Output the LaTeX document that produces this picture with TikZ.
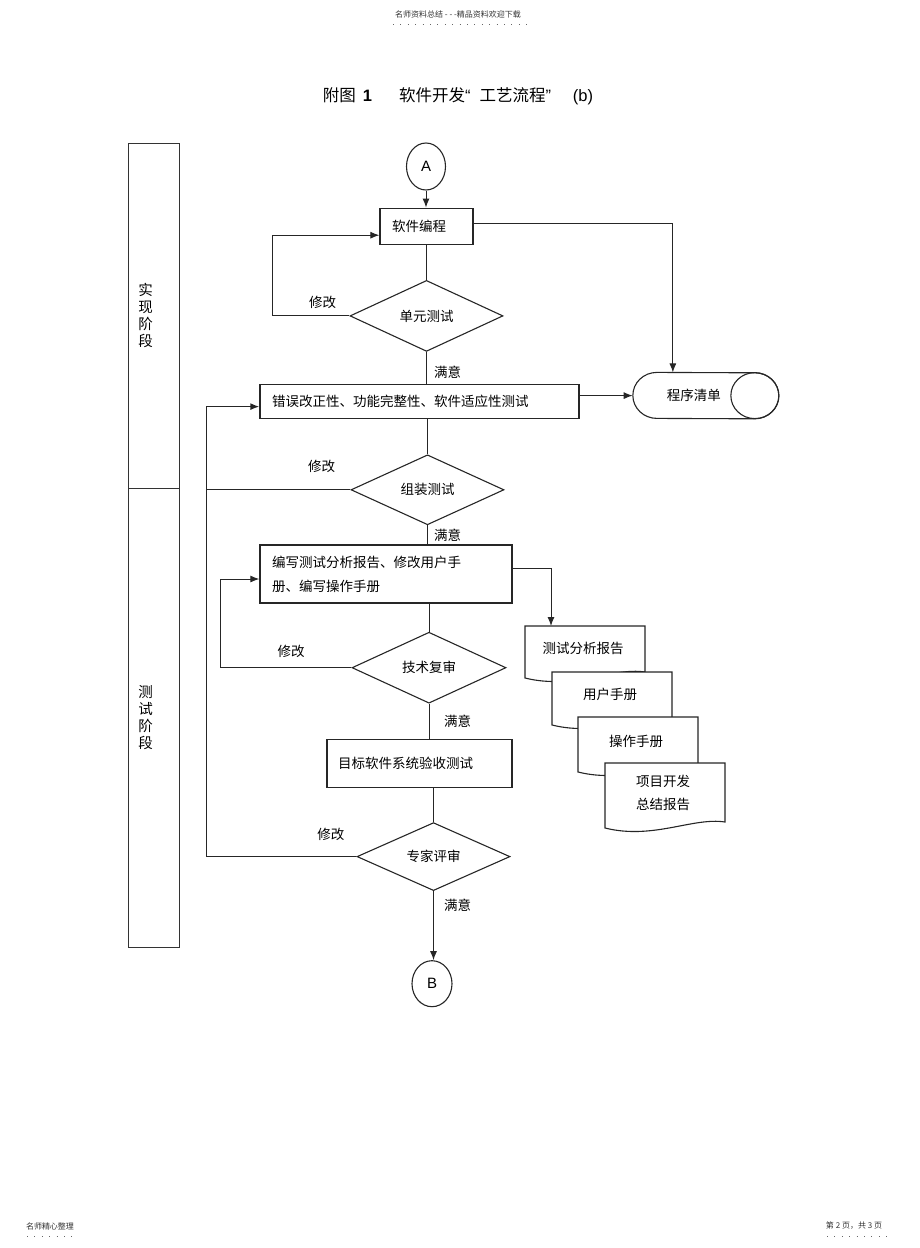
\documentclass[tikz,border=0pt]{standalone}
\usepackage{fontspec}
\setmainfont{Liberation Sans}
\newfontfamily\cjk{Noto Sans CJK SC}
\usepackage{tikz}
\usetikzlibrary{shapes,arrows,arrows.meta,positioning}
\tikzstyle{block} = [rectangle, draw=black!85, line width=1.3pt, fill=white,
    font=\cjk\fontsize{13.5}{24}\selectfont, align=left, inner xsep=12pt, inner ysep=0pt]
\tikzstyle{decision} = [diamond, draw=black!85, line width=1.1pt, fill=white,
    font=\cjk\fontsize{13.5}{16}\selectfont, inner sep=0pt, minimum width=153pt, minimum height=71pt]
\tikzstyle{term} = [ellipse, draw=black!85, line width=1.1pt, font=\fontsize{15}{18}\selectfont,
    minimum width=39pt, minimum height=47pt, inner sep=0pt]
\tikzstyle{store} = [rectangle, minimum width=146pt, minimum height=46pt, inner sep=0pt,
    font=\cjk\fontsize{13.5}{16}\selectfont]
\tikzstyle{line} = [draw=black!85, line width=1pt, -{Latex[length=9pt, width=7pt]}]
\tikzstyle{link} = [draw=black!85, line width=1pt]
\tikzstyle{tag} = [font=\cjk\fontsize{13.5}{16}\selectfont, inner sep=0pt]
\tikzstyle{lane} = [rectangle, draw=black!80, line width=1pt, minimum width=51pt]
\tikzstyle{lanetext} = [font=\cjk\fontsize{14.5}{17}\selectfont, align=center, inner sep=0pt]
\tikzstyle{doc} = [draw=black!85, line width=1.1pt, fill=white]
\tikzstyle{doctext} = [font=\cjk\fontsize{13.5}{23}\selectfont, align=center, inner sep=0pt]
\tikzstyle{small} = [font=\cjk\fontsize{8}{9}\selectfont, inner sep=0pt, text=black!80]
\tikzstyle{dotrule} = [draw=black!60, line width=0.8pt, dash pattern=on 0.8pt off 6.6pt]
\tikzstyle{heading} = [font=\fontsize{16.5}{20}\selectfont, inner sep=0pt]

\begin{document}
\begin{tikzpicture}[x=1pt, y=-1pt, node distance=2cm, auto]
	\useasboundingbox (0,0) rectangle (920,1248);
	% header, footer and title
	\node [small] (head) at (458,14) {名师资料总结 - - -精品资料欢迎下载};
	\draw [dotrule] (393,24) -- (527,24);
	\node [small] (foot1) at (50,1226) {名师精心整理};
	\draw [dotrule] (27,1236) -- (76,1236);
	\node [small] (foot2) at (854,1226) {第 2 页，共 3 页};
	\draw [dotrule] (827,1236) -- (892,1236);
	\node [heading] (title) at (458,96) {{\cjk 附图}\hspace{7pt}{\bfseries 1}\hspace{27pt}{\cjk 软件开发}“\hspace{9pt}{\cjk 工艺流程}”\hspace{22pt}(b)};

	% phases
	\node [lane, minimum height=345pt] (lane1) at (153.5,315.5) {};
	\node [lane, minimum height=459pt] (lane2) at (153.5,717.5) {};
	\node [lanetext] (phase1) at ([xshift=-8pt]lane1) {实\\现\\阶\\段};
	\node [lanetext] (phase2) at ([xshift=-8pt]lane2) {测\\试\\阶\\段};

	% node placement
	\node [term] (A) at (426,166.5) {A};
	\node [block, text width=69pt, minimum height=36pt, below=17pt of A, xshift=0.5pt] (code) {软件编程};
	\node [decision, below=35pt of code] (unit) {单元测试};
	\node [block, text width=295pt, minimum height=34pt, below=32pt of unit, xshift=-7pt] (fix) {错误改正性、功能完整性、软件适应性测试};
	\node [store, right=53pt of fix, yshift=6pt] (list) {};
	\node [decision, minimum height=70pt, below=35pt of fix, xshift=8pt] (asm) {组装测试};
	\node [block, text width=228pt, minimum height=58pt, below=19pt of asm, xshift=-41.5pt] (report) {编写测试分析报告、修改用户手\\册、编写操作手册};
	\node [decision, minimum width=154pt, below=28pt of report, xshift=43pt] (review) {技术复审};
	\node [block, inner xsep=11pt, text width=163pt, minimum height=48pt, below=35pt of review, xshift=-9.5pt] (accept) {目标软件系统验收测试};
	\node [decision, minimum height=68pt, below=34pt of accept, xshift=14pt] (expert) {专家评审};
	\node [term, minimum width=40pt, minimum height=46pt, below=69pt of expert, xshift=-1.5pt] (B) {B};

	% program list
	\draw [link, line width=1.1pt, fill=white] ([xshift=-49pt]list.north) arc [start angle=90, end angle=270, x radius=24pt, y radius=23pt]
		-- ([xshift=49pt]list.south) arc [start angle=-90, end angle=90, x radius=24pt, y radius=23pt] -- cycle;
	\draw [link, line width=1.1pt] ([xshift=49pt]list.center) ellipse [x radius=24pt, y radius=23pt];
	\node [store] (listtext) at (list) {\hspace*{-24pt}程序清单};

	% documents
	\foreach \n/\dx/\dy/\h/\ty/\txt in {1/525/626/52/22/{测试分析报告}, 2/552/672/53/22/{用户手册},
		3/578/717/55/24/{操作手册}, 4/605/763/65/29.5/{项目开发\\总结报告}} {
		\coordinate (d\n) at (\dx,\dy);
		\draw [doc] (d\n) -- (\dx+120,\dy) -- (\dx+120,\dy+\h-6)
			.. controls (\dx+88,\dy+\h-11) and (\dx+48,\dy+\h+12) .. (\dx,\dy+\h) -- cycle;
		\node [doctext] (doc\n) at (\dx+58,\dy+\ty) {\txt};
	}

	% main flow
	\path [line] (A) -- (A |- code.north);
	\path [link] (code) -- (unit);
	\path [link] (unit.south) -- node [tag, right=7pt, pos=.64] {满意} (unit.south |- fix.north);
	\path [line] ([yshift=3pt]code.east) -| ([xshift=-33pt]list.north);
	\path [line] (fix.east |- list.west) -- (list.west);
	\path [link] (asm.north |- fix.south) -- (asm.north);
	\path [link] (asm.south) -- node [tag, right=6pt, pos=.5] {满意} (asm.south |- report.north);
	\path [line] ([yshift=6pt]report.east) -| ([xshift=26pt]d1);
	\path [link] (review.north |- report.south) -- (review.north);
	\path [link] (review.south) -- node [tag, right=14.5pt, pos=.5] {满意} (review.south |- accept.north);
	\path [link] (expert.north |- accept.south) -- (expert.north);
	\path [line] (expert.south) -- node [tag, right=10pt, pos=.21] {满意} (expert.south |- B.north);

	% loops back
	\path [line] (unit.west) -- node [tag, above=6.5pt, pos=.35] {修改} ++(-77,0) |- ([yshift=-9pt]code.west);
	\coordinate (back) at ([xshift=-150pt]expert.west);
	\path [line, line width=1.4pt] (expert.west) -- node [tag, above=15pt, pos=.17] {修改} (back) |- ([yshift=-5pt]fix.west);
	\path [link] (asm.west) -- node [tag, above=17pt, pos=.2] {修改} (asm.west -| back);
	\path [line] (review.west) -- node [tag, above=9.5pt, pos=.46] {修改} ++(-131,0) |- ([yshift=-5pt]report.west);
\end{tikzpicture}
\end{document}
